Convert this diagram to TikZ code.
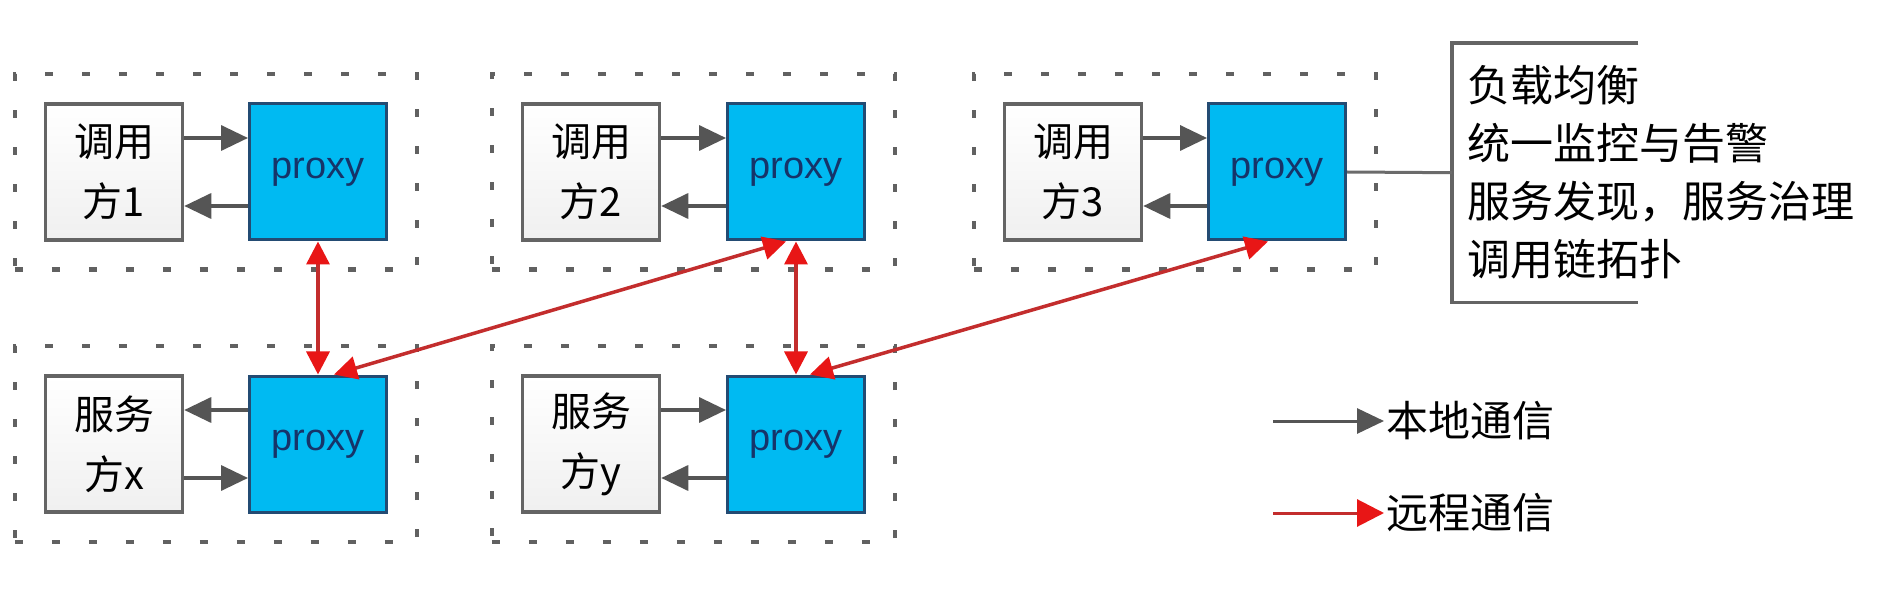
\documentclass[tikz,border=0pt]{standalone}
\usepackage{fontspec}
\setmainfont{Noto Sans CJK SC}
\newfontfamily\latfont{Liberation Sans}
\usetikzlibrary{arrows.meta,fit}
\definecolor{proxyfill}{RGB}{0,186,242}
\definecolor{proxyedge}{RGB}{35,75,115}
\definecolor{proxytext}{RGB}{22,52,105}
\definecolor{boxedge}{RGB}{100,100,100}
\definecolor{localc}{RGB}{85,85,85}
\definecolor{remotel}{RGB}{195,45,45}
\definecolor{remoteh}{RGB}{232,22,22}
\begin{document}
\begin{tikzpicture}[x=1pt,y=-1pt,
  party/.style={draw=boxedge, line width=3.5pt, top color=white, bottom color=black!6,
    minimum width=137pt, minimum height=136pt, inner sep=0pt, align=center,
    font=\fontsize{40}{60}\selectfont},
  proxybox/.style={draw=proxyedge, line width=3pt, fill=proxyfill,
    minimum width=137pt, minimum height=136pt, inner sep=0pt,
    font=\latfont\fontsize{38}{40}\selectfont, text=proxytext},
  group/.style={draw=black!62, line width=4.5pt, dash pattern=on 8pt off 29pt,
    inner xsep=29pt, inner ysep=28pt},
  local/.style={draw=localc, line width=3.5pt, -{Triangle[length=27pt,width=25pt]}},
  remote/.style={draw=remotel, line width=3.5pt,
    {Triangle[length=23pt,width=23pt,color=remoteh,fill=remoteh]}-{Triangle[length=23pt,width=23pt,color=remoteh,fill=remoteh]}},
  remoteleg/.style={draw=remotel, line width=3pt,
    -{Triangle[length=27pt,width=27pt,color=remoteh,fill=remoteh]}},
  legtext/.style={anchor=west, inner sep=2pt, font=\fontsize{42}{50}\selectfont}
]
\useasboundingbox (0,0) rectangle (1881,593);
\fill[white] (0,0) rectangle (1881,593);

% top row
\node[party] (c1) at (114,172) {调用\\方1};
\node[proxybox] (p1) at (318,172) {proxy};
\node[party] (c2) at (591,172) {调用\\方2};
\node[proxybox] (p2) at (796,172) {proxy};
\node[party] (c3) at (1073,172) {调用\\方3};
\node[proxybox] (p3) at (1277,172) {proxy};
% bottom row
\node[party] (sx) at (114,444) {服务\\方x};
\node[proxybox] (px) at (318,444) {proxy};
\node[party] (sy) at (591,444) {服务\\方y};
\node[proxybox] (py) at (796,444) {proxy};

% dotted groups
\node[group, fit=(c1)(p1)] (g1) {};
\node[group, fit=(c2)(p2)] (g2) {};
\node[group, fit=(c3)(p3)] (g3) {};
\node[group, fit=(sx)(px)] (gx) {};
\node[group, fit=(sy)(py)] (gy) {};

% local arrows
\draw[local] ([yshift=34pt]c1.east) -- ([yshift=34pt]p1.west);
\draw[local] ([yshift=-34pt]p1.west) -- ([yshift=-34pt]c1.east);
\draw[local] ([yshift=34pt]c2.east) -- ([yshift=34pt]p2.west);
\draw[local] ([yshift=-34pt]p2.west) -- ([yshift=-34pt]c2.east);
\draw[local] ([yshift=34pt]c3.east) -- ([yshift=34pt]p3.west);
\draw[local] ([yshift=-34pt]p3.west) -- ([yshift=-34pt]c3.east);
\draw[local] ([yshift=34pt]px.west) -- ([yshift=34pt]sx.east);
\draw[local] ([yshift=-34pt]sx.east) -- ([yshift=-34pt]px.west);
\draw[local] ([yshift=34pt]sy.east) -- ([yshift=34pt]py.west);
\draw[local] ([yshift=-34pt]py.west) -- ([yshift=-34pt]sy.east);

% remote arrows
\draw[remote] (p1.south) -- (px.north);
\draw[remote] ([xshift=16pt]px.north) -- ([xshift=-10pt]p2.south);
\draw[remote] (p2.south) -- (py.north);
\draw[remote] ([xshift=14pt]py.north) -- ([xshift=-9pt]p3.south);

% feature box
\node[minimum width=186pt, minimum height=259pt, inner sep=0pt, anchor=north west] (tb) at (1452,43) {};
\draw[draw=boxedge, line width=3.5pt] (tb.north east) -- (tb.north west) -- (tb.south west) -- (tb.south east);
\node[anchor=west, align=left, inner sep=0pt, font=\fontsize{43}{58}\selectfont] (tbt) at ([xshift=15pt]tb.west)
  {负载均衡\\统一监控与告警\\服务发现，服务治理\\调用链拓扑};
\draw[draw=black!58, line width=3pt] (p3.east) -- (tb.west);

% legend
\coordinate (la) at (1273,421);
\node[legtext] (lt1) at (1384,421) {本地通信};
\draw[local, line width=3pt] (la) -- (lt1.west);
\coordinate (lb) at (1273,513);
\node[legtext] (lt2) at (1384,513) {远程通信};
\draw[remoteleg] (lb) -- (lt2.west);
\end{tikzpicture}
\end{document}
